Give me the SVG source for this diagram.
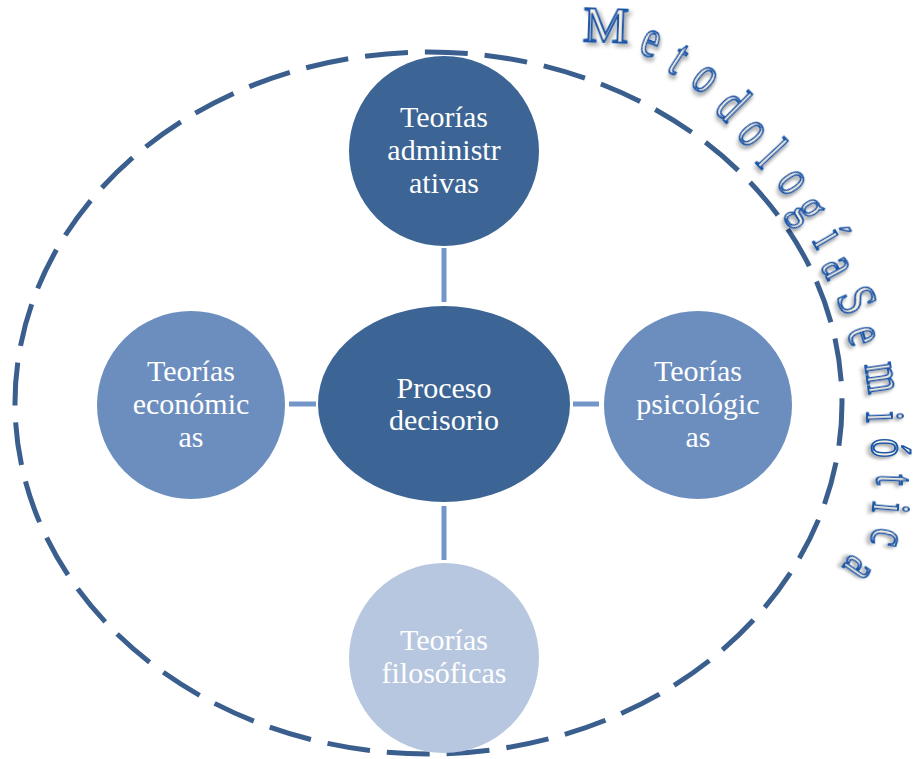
<svg xmlns="http://www.w3.org/2000/svg" width="913" height="759" viewBox="0 0 913 759">
<style>
.lbl{font-family:"Liberation Serif","Times New Roman",serif;font-size:30px;fill:#ffffff;text-anchor:middle}
.arc{font-family:"Liberation Serif","Times New Roman",serif;font-size:54px;fill:#F4F2E6;stroke:#1F57A6;stroke-width:2;text-anchor:middle;filter:url(#sh)}
.conn{stroke:#7396C8;stroke-width:5;fill:none}
</style>
<defs>
<filter id="sh" x="-50%" y="-50%" width="200%" height="200%">
<feDropShadow dx="3" dy="3" stdDeviation="2" flood-color="#000" flood-opacity="0.35"/>
</filter>
</defs>
<rect width="913" height="759" fill="#ffffff"/>
<ellipse id="outer" cx="428.5" cy="403" rx="413.5" ry="351" fill="none" stroke="#3A5F8E" stroke-width="5" stroke-dasharray="43 17"/>
<g id="connectors">
<line class="conn" x1="444" y1="248" x2="444" y2="302"/>
<line class="conn" x1="444" y1="506" x2="444" y2="560"/>
<line class="conn" x1="289" y1="404" x2="316" y2="404"/>
<line class="conn" x1="573" y1="404" x2="599" y2="404"/>
</g>
<g id="n-admin">
<circle cx="444" cy="151" r="95" fill="#3C6494"/>
<text class="lbl" x="444" y="127">Teorías</text>
<text class="lbl" x="444" y="160">administr</text>
<text class="lbl" x="444" y="193">ativas</text>
</g>
<g id="n-proceso">
<ellipse cx="444" cy="404" rx="126" ry="98" fill="#3C6494"/>
<text class="lbl" x="444" y="398">Proceso</text>
<text class="lbl" x="444" y="430">decisorio</text>
</g>
<g id="n-econ">
<circle cx="191" cy="405" r="94" fill="#6C8EBF"/>
<text class="lbl" x="191" y="381">Teorías</text>
<text class="lbl" x="191" y="414">económic</text>
<text class="lbl" x="191" y="447">as</text>
</g>
<g id="n-psico">
<circle cx="698" cy="405" r="94" fill="#6C8EBF"/>
<text class="lbl" x="698" y="381">Teorías</text>
<text class="lbl" x="698" y="414">psicológic</text>
<text class="lbl" x="698" y="447">as</text>
</g>
<g id="n-filo">
<circle cx="444" cy="658" r="95" fill="#B8C7E0"/>
<text class="lbl" x="444" y="650">Teorías</text>
<text class="lbl" x="444" y="683">filosóficas</text>
</g>
<g id="title">
<text class="arc" style="font-size:51px" transform="translate(606,25) rotate(2)" y="17">M</text>
<text class="arc" transform="translate(650,44) rotate(20) scale(0.72,1)" y="12">e</text>
<text class="arc" transform="translate(679,59) rotate(33) scale(0.72,1)" y="16">t</text>
<text class="arc" transform="translate(704,80) rotate(40) scale(0.72,1)" y="12">o</text>
<text class="arc" transform="translate(733,104) rotate(45) scale(0.72,1)" y="18">d</text>
<text class="arc" transform="translate(751,134) rotate(50) scale(0.72,1)" y="12">o</text>
<text class="arc" transform="translate(772,154) rotate(47) scale(0.72,1)" y="18">l</text>
<text class="arc" transform="translate(791,183) rotate(55) scale(0.72,1)" y="12">o</text>
<text class="arc" transform="translate(802,214) rotate(58) scale(0.72,1)" y="6">g</text>
<text class="arc" transform="translate(829,238) rotate(60) scale(0.72,1)" y="16">í</text>
<text class="arc" transform="translate(835,268) rotate(62) scale(0.72,1)" y="12">a</text>
<text class="arc" transform="translate(857,300) rotate(66) scale(0.78,1)" y="18">S</text>
<text class="arc" transform="translate(861,336) rotate(72) scale(0.72,1)" y="12">e</text>
<text class="arc" transform="translate(879,378) rotate(82) scale(0.72,1)" y="12">m</text>
<text class="arc" transform="translate(883,417) rotate(88) scale(0.72,1)" y="16">i</text>
<text class="arc" transform="translate(887,448) rotate(90) scale(0.72,1)" y="15">ó</text>
<text class="arc" transform="translate(893,480) rotate(92) scale(0.72,1)" y="16">t</text>
<text class="arc" transform="translate(889,508) rotate(95) scale(0.72,1)" y="16">i</text>
<text class="arc" transform="translate(884,537) rotate(100) scale(0.72,1)" y="12">c</text>
<text class="arc" transform="translate(857,567) rotate(125) scale(0.72,1)" y="12">a</text>
</g>
</svg>
